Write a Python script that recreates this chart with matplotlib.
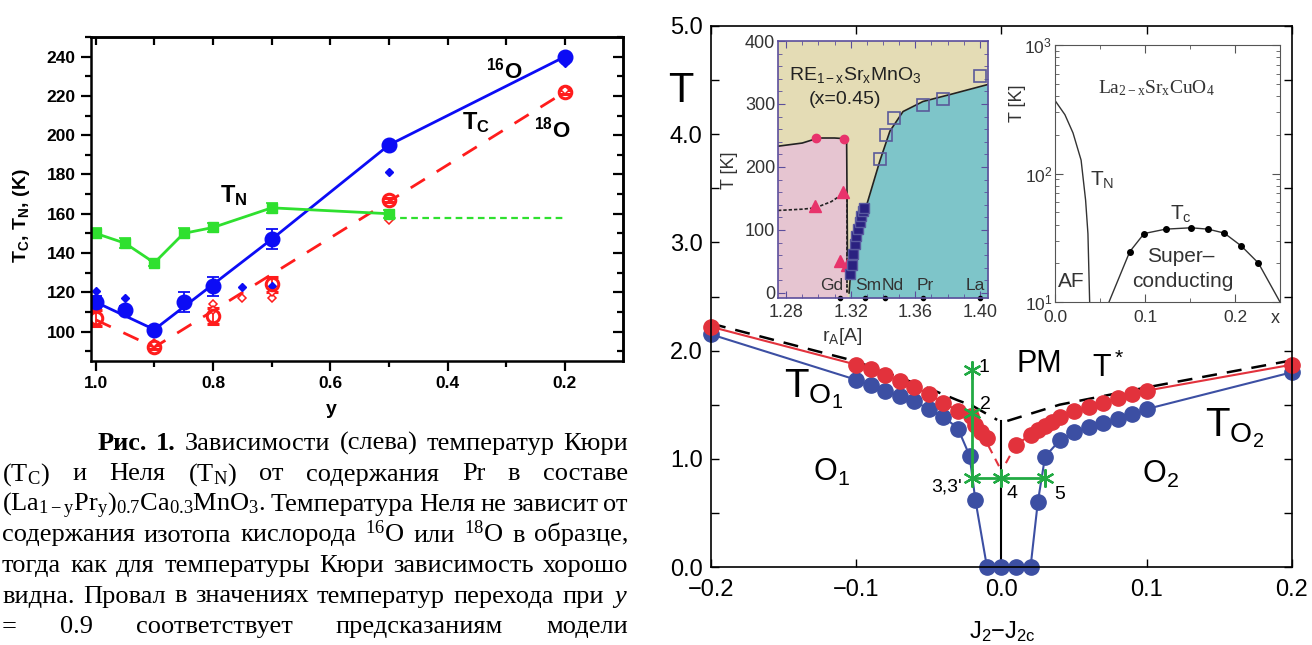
import matplotlib
matplotlib.use("Agg")
import matplotlib.pyplot as plt
from matplotlib.ticker import MultipleLocator, NullFormatter, LogLocator

W, H = 1312, 645
DPI = 100

plt.rcParams['font.family'] = ['Liberation Sans', 'DejaVu Sans']
plt.rcParams['mathtext.fontset'] = 'custom'
plt.rcParams['mathtext.default'] = 'regular'
plt.rcParams['mathtext.it'] = 'Liberation Serif:italic'

# ---------------- left chart: (La1-yPry)0.7Ca0.3MnO3 ----------------
y_tc16 = [1.0, 0.95, 0.9, 0.85, 0.8, 0.7, 0.5, 0.2]
tc16 = [115, 111, 101, 115, 123, 147, 195, 240]
tc16_err = [3, 2, 2, 5, 5, 5, 1, 1]
fit16_y = [1.0, 0.9, 0.7, 0.5, 0.2]
fit16 = [115, 101, 147, 195, 240]

y_dia16 = [1.0, 0.95, 0.75, 0.7, 0.5, 0.2]
dia16 = [120.5, 117, 122.5, 123, 181, 237]

y_tc18 = [1.0, 0.9, 0.8, 0.7, 0.5, 0.2]
tc18 = [107, 92, 108, 124, 167, 222]
tc18_err = [4, 1, 4, 4, 1, 1]
fit18_y = [1.0, 0.9, 0.2]
fit18 = [106, 92, 222]

y_dia18 = [1.0, 0.9, 0.8, 0.8, 0.75, 0.7, 0.7, 0.5, 0.2]
dia18 = [115, 94, 114, 111, 117, 117, 120, 157, 223]

y_tn = [1.0, 0.95, 0.9, 0.85, 0.8, 0.7, 0.5]
tn = [150, 145, 135, 150, 153, 163, 160]
tn_err = [2.5, 2.5, 1.5, 2.5, 2.5, 2.5, 2]
tn_ext_y = [0.5, 0.2]
tn_ext = [158, 158]

cap_lines = [
    "Рис. 1. Зависимости (слева) температур Кюри",
    "(T$_C$) и Неля (T$_N$) от содержания Pr в составе",
    "(La$_{1-y}$Pr$_y$)$_{0.7}$Ca$_{0.3}$MnO$_3$. Температура Неля не зависит от",
    "содержания изотопа кислорода $^{16}$O или $^{18}$O в образце,",
    "тогда как для температуры Кюри зависимость хорошо",
    "видна. Провал в значениях температур перехода при $\\mathit{y}$",
    "= 0.9 соответствует предсказаниям модели",
]
bold_words = ["Рис.", "1."]

# ---------------- right chart: T vs J2-J2c ----------------
red_xl = [-0.2, -0.1, -0.09, -0.08, -0.07, -0.06, -0.05, -0.04, -0.03, -0.021, -0.018, -0.014, -0.01]
red_Tl = [2.22, 1.87, 1.83, 1.77, 1.72, 1.66, 1.60, 1.52, 1.44, 1.40, 1.31, 1.25, 1.19]
red_xr = [0.01, 0.02, 0.025, 0.03, 0.035, 0.04, 0.05, 0.06, 0.07, 0.08, 0.09, 0.1, 0.2]
red_Tr = [1.13, 1.22, 1.27, 1.30, 1.34, 1.39, 1.44, 1.48, 1.52, 1.56, 1.60, 1.63, 1.87]
red_dash_l = ([-0.009, -0.0005], [1.12, 0.90])
red_dash_r = ([0.003, 0.01], [0.96, 1.13])

blue_x = [-0.2, -0.1, -0.09, -0.08, -0.07, -0.06, -0.05, -0.04, -0.03, -0.022, -0.018,
          -0.01, 0.0, 0.01, 0.02, 0.025, 0.03, 0.04, 0.05, 0.06, 0.07, 0.08, 0.09, 0.1, 0.2]
blue_T = [2.15, 1.73, 1.68, 1.63, 1.58, 1.53, 1.46, 1.39, 1.28, 1.03, 0.62,
          0, 0, 0, 0, 0.60, 1.02, 1.17, 1.25, 1.29, 1.33, 1.37, 1.41, 1.46, 1.80]

tstar_xl = [-0.2, -0.1, -0.05, -0.03, -0.02, -0.003]
tstar_Tl = [2.25, 1.90, 1.65, 1.54, 1.49, 1.36]
tstar_xr = [0.004, 0.04, 0.1, 0.2]
tstar_Tr = [1.35, 1.50, 1.66, 1.91]
wall_x = [0.0, 0.0]
wall_T = [0.0, 1.35]

path_x = [-0.02, -0.02, -0.02, 0.0, 0.03]
path_T = [1.82, 1.42, 0.82, 0.82, 0.82]
path_lab = ["1", "2", "3,3'", "4", "5"]

# inset 1: RE1-xSrxMnO3
co_x = [1.275, 1.29, 1.30, 1.31, 1.316, 1.3175, 1.318]
co_T = [233, 238, 246, 246, 245, 238, 60]
fm_x = [1.319, 1.3196, 1.3276, 1.3381, 1.3443, 1.3524, 1.3648, 1.3815, 1.405]
fm_T = [0, 20, 120, 210, 257, 288, 304, 315, 331]
dot_x = [1.275, 1.29, 1.298, 1.308, 1.315, 1.3177, 1.3177]
dot_T = [131, 133, 135, 145, 157, 150, 0]
pk_circ_x = [1.2985, 1.316]
pk_circ_T = [246, 245]
pk_tri_x = [1.298, 1.3152, 1.3134, 1.3177]
pk_tri_T = [138, 160, 50, 45]
sq_open_x = [1.338, 1.342, 1.347, 1.365, 1.377, 1.400]
sq_open_T = [213, 250, 278, 298, 308, 345]
sq_dark_x = [1.3196, 1.3205, 1.3215, 1.3225, 1.3235, 1.3245, 1.3255, 1.3265, 1.3275, 1.3285]
sq_dark_T = [30, 45, 62, 78, 90, 102, 112, 122, 130, 135]
elem_r = [1.3134, 1.3290, 1.3410, 1.3650, 1.4000]
elem_lab_x = [1.3080, 1.3310, 1.3462, 1.366, 1.397]
elem_lab = ["Gd", "Sm", "Nd", "Pr", "La"]

# inset 2: La2-xSrxCuO4
tn2_x = [0.0, 0.011, 0.020, 0.029, 0.034, 0.0366, 0.0385]
tn2_T = [370, 287, 207, 127, 62, 34, 10]
sc_x = [0.083, 0.099, 0.123, 0.151, 0.170, 0.188, 0.207, 0.226]
sc_T = [24.6, 34.1, 36.9, 37.8, 36.9, 34.4, 27.3, 20.1]
sc_curve_x = [0.060] + sc_x + [0.25]
sc_curve_T = [10] + sc_T + [10]


def px_rect(l, t, r, b):
    return [l / W, 1 - b / H, (r - l) / W, (b - t) / H]


def fpos(x, y):
    return x / W, 1 - y / H


fig = plt.figure(figsize=(W / DPI, H / DPI), dpi=DPI)
renderer = fig.canvas.get_renderer()

# ===================== left chart =====================
BLUE, RED, GREEN = '#0c0cf5', '#ff1c1c', '#2fe02f'
axL = fig.add_axes(px_rect(91, 37, 623, 361))
axL.set_xlim(1.008, 0.101)
axL.set_ylim(85, 250)

axL.plot(tn_ext_y, tn_ext, color=GREEN, lw=1.6, ls=(0, (3, 2)))
axL.errorbar(y_tn, tn, yerr=tn_err, color=GREEN, marker='s', ms=7, lw=2,
             capsize=4, elinewidth=1.2, capthick=1.2)
axL.plot(fit18_y, fit18, color=RED, lw=2, ls=(0, (6, 5)))
axL.errorbar(y_tc18, tc18, yerr=tc18_err, fmt='o', color=RED, mfc='none', mec=RED,
             mew=2.2, ms=9, capsize=4, elinewidth=1.3, capthick=1.3)
axL.plot(y_dia18, dia18, 'D', ls='none', mfc='white', mec=RED, mew=1.1, ms=4.5)
axL.plot(fit16_y, fit16, color=BLUE, lw=2)
axL.errorbar(y_tc16, tc16, yerr=tc16_err, fmt='o', color=BLUE, ms=10.5,
             capsize=4, elinewidth=1.3, capthick=1.3)
axL.plot(y_dia16, dia16, 'D', ls='none', color=BLUE, ms=4.5)

axL.xaxis.set_major_locator(MultipleLocator(0.2))
axL.xaxis.set_minor_locator(MultipleLocator(0.1))
axL.yaxis.set_major_locator(MultipleLocator(20))
axL.yaxis.set_minor_locator(MultipleLocator(10))
axL.set_xticks([1.0, 0.8, 0.6, 0.4, 0.2])
axL.tick_params(which='both', direction='out', width=1.6, labelsize=12.5, pad=4)
axL.tick_params(which='major', length=7)
axL.tick_params(which='minor', length=4)
for lab in axL.get_xticklabels() + axL.get_yticklabels():
    lab.set_fontweight('bold')
for sp in axL.spines.values():
    sp.set_linewidth(1.8)
secx = axL.secondary_xaxis('top')
secx.xaxis.set_major_locator(MultipleLocator(0.1))
secx.tick_params(direction='in', length=6, width=1.6, labeltop=False)
secy = axL.secondary_yaxis('right')
secy.yaxis.set_major_locator(MultipleLocator(20))
secy.yaxis.set_minor_locator(MultipleLocator(10))
secy.tick_params(which='both', direction='in', width=1.6, labelright=False)
secy.tick_params(which='major', length=7)
secy.tick_params(which='minor', length=4)
for s in (secx, secy):
    for sp in s.spines.values():
        sp.set_linewidth(1.8)

axL.text(0.765, 166, "T$_N$", fontsize=17, fontweight='bold', ha='center')
axL.text(0.352, 203, "T$_C$", fontsize=17, fontweight='bold', ha='center')
axL.text(0.303, 229, "$^{16}$O", fontsize=16, fontweight='bold', ha='center')
axL.text(0.222, 199, "$^{18}$O", fontsize=16, fontweight='bold', ha='center')
fig.text(*fpos(22, 216), "T$_C$, T$_N$, (K)", rotation=90, fontsize=14,
         fontweight='bold', ha='center', va='center')
fig.text(*fpos(331, 410), "y", fontsize=14, fontweight='bold', ha='center', va='center')

# caption, justified line by line
CAP_SIZE = 19
cap_left, cap_right, indent = 2, 628, 98
cap_y0, cap_dy = 450, 30.5
for i, line in enumerate(cap_lines):
    x0 = indent if i == 0 else cap_left
    size = CAP_SIZE
    while True:
        objs = []
        for w in line.split(" "):
            t = fig.text(0, 0, w, fontsize=size, va='baseline',
                         family=['Liberation Serif', 'DejaVu Serif'],
                         fontweight='bold' if (i == 0 and w in bold_words) else 'normal')
            objs.append(t)
        widths = [t.get_window_extent(renderer).width for t in objs]
        gap = (cap_right - x0 - sum(widths)) / (len(objs) - 1)
        if gap >= 4 or size < 12:
            break
        for t in objs:
            t.remove()
        size -= 0.5
    x = x0
    for t, wd in zip(objs, widths):
        t.set_position(fpos(x, cap_y0 + i * cap_dy))
        x += wd + gap

# ===================== right chart =====================
RRED, RBLUE, RGREEN = '#e2323c', '#3c4fa3', '#22aa44'
axR = fig.add_axes(px_rect(711, 26, 1292, 567))
axR.set_xlim(-0.2, 0.2)
axR.set_ylim(0, 5)
axR.plot(tstar_xl, tstar_Tl, color='k', lw=1.8, ls=(0, (6, 4)))
axR.plot(tstar_xr, tstar_Tr, color='k', lw=1.8, ls=(0, (6, 4)))
axR.plot(wall_x, wall_T, color='k', lw=1.5)
axR.plot(blue_x, blue_T, color=RBLUE, lw=1.5, marker='o', ms=11, clip_on=False)
axR.plot(*red_dash_l, color=RRED, lw=1.5, ls=(0, (4, 3)))
axR.plot(*red_dash_r, color=RRED, lw=1.5, ls=(0, (4, 3)))
axR.plot(red_xl, red_Tl, color=RRED, lw=1.5, marker='o', ms=11, clip_on=False)
axR.plot(red_xr, red_Tr, color=RRED, lw=1.5, marker='o', ms=11, clip_on=False)
axR.plot(path_x[:3], path_T[:3], color=RGREEN, lw=2)
axR.plot(path_x[2:], path_T[2:], color=RGREEN, lw=2)
axR.plot(path_x, path_T, ls='none', marker=(6, 2, 0), ms=13, mew=1.6, color=RGREEN)
lab_off = [(0.008, 0.02), (0.009, 0.08), (-0.018, -0.08), (0.0075, -0.14), (0.01, -0.15)]
for px_, pt_, lab, (dx, dy) in zip(path_x, path_T, path_lab, lab_off):
    axR.text(px_ + dx, pt_ + dy, lab, fontsize=14, ha='center', va='center')

axR.xaxis.set_major_locator(MultipleLocator(0.1))
axR.yaxis.set_major_locator(MultipleLocator(1.0))
axR.yaxis.set_minor_locator(MultipleLocator(0.5))
axR.xaxis.set_major_formatter(plt.FuncFormatter(lambda v, p: f"{v:.1f}".replace("-", "\u2212")))
axR.yaxis.set_major_formatter(plt.FuncFormatter(lambda v, p: f"{v:.1f}"))
axR.tick_params(which='both', direction='in', top=True, right=True, length=6, width=1,
                labelsize=17)
axR.tick_params(axis='x', pad=9)
axR.tick_params(axis='y', pad=6)
for sp in axR.spines.values():
    sp.set_linewidth(1.2)

axR.text(-0.150, 1.56, "T$_{O_1}$", fontsize=29)
axR.text(-0.130, 0.80, "O$_1$", fontsize=22)
axR.text(0.010, 1.80, "PM", fontsize=22)
axR.text(0.062, 1.76, "T$^*$", fontsize=22)
axR.text(0.140, 1.20, "T$_{O_2}$", fontsize=29)
axR.text(0.097, 0.78, "O$_2$", fontsize=22)
fig.text(*fpos(668, 102), "T", fontsize=30)
fig.text(*fpos(1002, 632), "J$_2$\u2212J$_{2c}$", fontsize=17, ha='center', va='center')

# ----- inset 1 -----
ax1 = fig.add_axes(px_rect(778, 41, 988, 298))
ax1.set_xlim(1.275, 1.405)
ax1.set_ylim(-8, 400)
ymin1 = ax1.get_ylim()[0]
ax1.set_facecolor('#e4dcb5')
ax1.fill(co_x + [co_x[-1], co_x[0]], co_T + [ymin1, ymin1], color='#e6c5d1', lw=0)
ax1.fill_between(fm_x, ymin1, fm_T, color='#7ec5c9', lw=0)
ax1.plot(co_x, co_T, color='#222222', lw=1.2)
ax1.plot([co_x[-1], co_x[-1]], [co_T[-1], 0], color='#222222', lw=1.2, ls=':')
ax1.plot(fm_x, fm_T, color='#222222', lw=1.2)
ax1.plot(dot_x, dot_T, color='#222222', lw=1.2, ls=(0, (2, 1.2)))
ax1.plot(pk_circ_x, pk_circ_T, 'o', color='#e8336b', ms=6)
ax1.plot(pk_tri_x, pk_tri_T, '^', color='#e8336b', ms=8)
ax1.plot(sq_open_x, sq_open_T, 's', mfc='none', mec='#5a5a9a', mew=1.2, ms=8)
ax1.plot(sq_dark_x, sq_dark_T, 's', color='#2a2180', mec='#5a5aa0', ms=7)
ax1.plot(elem_r, [ymin1] * len(elem_r), 'o', color='k', ms=3, clip_on=False)
for ex, el in zip(elem_lab_x, elem_lab):
    ax1.text(ex, 4, el, fontsize=12.5, color='#333333', ha='center', va='baseline')
ax1.text(1.282, 338, "RE$_{1-x}$Sr$_x$MnO$_3$", fontsize=14, color='#222222')
ax1.text(1.3165, 300, "(x=0.45)", fontsize=14, color='#222222', ha='center')
ax1.set_xticks([1.28, 1.32, 1.36, 1.40])
ax1.xaxis.set_minor_locator(MultipleLocator(0.01))
ax1.yaxis.set_major_locator(MultipleLocator(100))
ax1.yaxis.set_minor_locator(MultipleLocator(20))
ax1.tick_params(which='both', direction='in', top=True, right=True, labelsize=13,
                labelcolor='#333333', color='#5b4e9c', pad=2)
ax1.tick_params(axis='x', pad=4)
ax1.tick_params(which='major', length=5)
ax1.tick_params(which='minor', length=3)
for sp in ax1.spines.values():
    sp.set_color('#5b4e9c')
    sp.set_linewidth(1.2)
fig.text(*fpos(730, 170), "T [K]", rotation=90, fontsize=13, color='#333333',
         ha='center', va='center')
fig.text(*fpos(842, 337), "r$_A$[A]", fontsize=14, color='#333333', ha='center', va='center')

# ----- inset 2 -----
ax2 = fig.add_axes(px_rect(1055, 45, 1280, 302))
ax2.set_yscale('log')
ax2.set_xlim(0, 0.25)
ax2.set_ylim(10, 1000)
ax2.plot(tn2_x, tn2_T, color='#333333', lw=1)
ax2.plot(sc_curve_x, sc_curve_T, color='#333333', lw=1)
ax2.plot(sc_x, sc_T, 'o', color='k', ms=4)
ax2.text(0.113, 462, "La$_{2-x}$Sr$_x$CuO$_4$", fontsize=14, ha='center', va='center',
         family=['Liberation Serif', 'DejaVu Serif'], color='#333333')
ax2.text(0.039, 81, "T$_N$", fontsize=15, color='#333333')
ax2.text(0.128, 43.5, "T$_c$", fontsize=15, color='#333333')
ax2.text(0.102, 20.5, "Super\u2013", fontsize=15, color='#333333')
ax2.text(0.0855, 13.1, "conducting", fontsize=15, color='#333333')
ax2.text(0.003, 13.1, "AF", fontsize=15, color='#333333')
ax2.set_xticks([0.0, 0.1, 0.2])
ax2.xaxis.set_minor_locator(MultipleLocator(0.05))
ax2.yaxis.set_major_locator(LogLocator(base=10, numticks=5))
ax2.yaxis.set_minor_locator(LogLocator(base=10, subs=range(2, 10), numticks=20))
ax2.yaxis.set_minor_formatter(NullFormatter())
ax2.tick_params(which='both', direction='in', top=True, right=True, labelsize=12.5,
                labelcolor='#333333', color='#555555', pad=2)
ax2.tick_params(axis='x', pad=6)
ax2.tick_params(which='major', length=6)
ax2.tick_params(which='minor', length=3)
for sp in ax2.spines.values():
    sp.set_color('#555555')
fig.text(*fpos(1017, 103), "T [K]", rotation=90, fontsize=13, color='#333333',
         ha='center', va='center')
fig.text(*fpos(1275, 318), "x", fontsize=13, color='#333333', ha='center', va='center')

fig.savefig("out.png", dpi=DPI)
